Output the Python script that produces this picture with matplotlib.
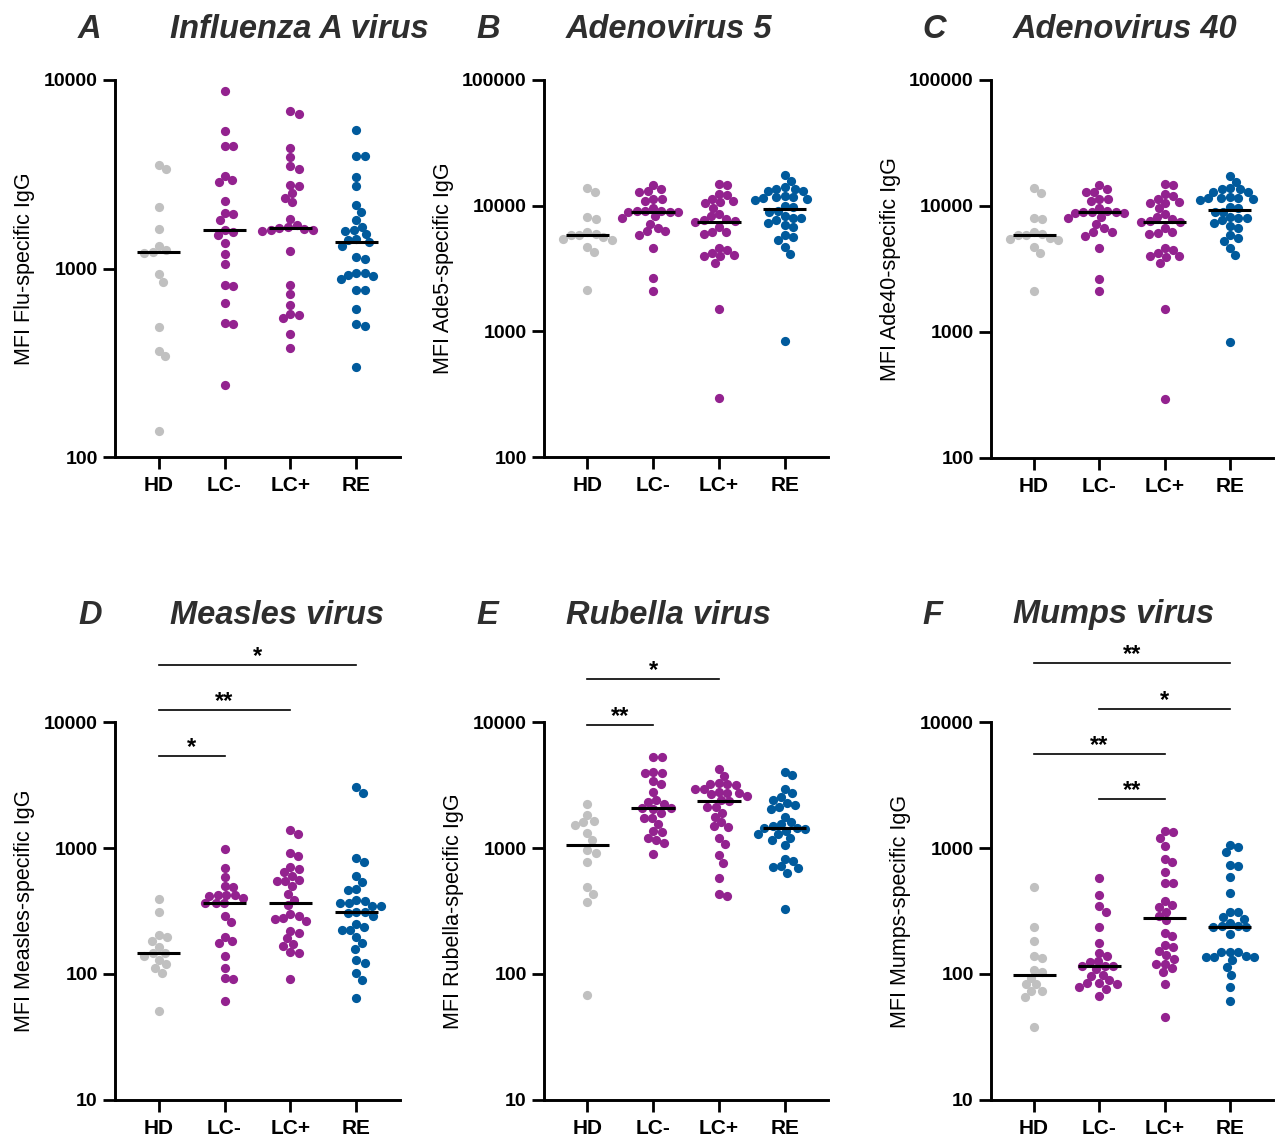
import numpy as np
import matplotlib
matplotlib.use("Agg")
import matplotlib.pyplot as plt
from matplotlib.ticker import FixedLocator, NullLocator

plt.rcParams['font.family'] = ['Liberation Sans', 'DejaVu Sans']

groups = ["HD", "LC-", "LC+", "RE"]
colors = ["#c0c0c0", "#93228f", "#93228f", "#005a9c"]

# A: Influenza A virus
flu_hd = [3530, 3390, 2120, 1630, 1320, 1250, 1225, 1210, 930, 850, 490, 365, 343, 138]
flu_lcn = [8710, 5350, 4490, 4490, 3100, 2960, 2860, 2280, 1970, 1950, 1800, 1610,
           1560, 1510, 1360, 1200, 1060, 816, 806, 660, 511, 509, 241]
flu_lcp = [6820, 6640, 4380, 3910, 3490, 3390, 2790, 2730, 2520, 2380, 2250, 1830, 1710,
           1660, 1640, 1615, 1610, 1610, 1585, 1245, 816, 728, 640, 575, 564, 543, 449, 377]
flu_re = [5410, 3930, 3930, 3060, 2730, 2170, 1990, 1800, 1660, 1600, 1590, 1520, 1430,
          1420, 1380, 1320, 1150, 1120, 952, 948, 922, 918, 878, 771, 771, 607, 505, 493, 300]

# B: Adenovirus 5 (panel C shows the same values)
ade_hd = [13830, 12770, 8070, 7880, 6170, 5950, 5880, 5880, 5600, 5430, 5330, 4720, 4260, 2130]
ade_lcn = [14690, 13650, 13000, 12850, 11300, 11300, 10960, 9580, 9120, 8910, 8850, 8850,
           9020, 9020, 8220, 7980, 7190, 6640, 6250, 6250, 5810, 4610, 2650, 2110]
ade_lcp = [14870, 14690, 12460, 12080, 11370, 10820, 10630, 10500, 9580, 8590, 8220, 7880,
           7640, 7500, 7410, 6730, 6170, 6140, 5950, 4610, 4470, 4200, 4030, 4000, 3950,
           3500, 1510, 295]
ade_re = [17420, 15620, 13990, 13650, 13650, 13000, 13000, 11860, 11650, 11650, 11510,
          11370, 11160, 9880, 9700, 9020, 8910, 8220, 7980, 7980, 7740, 7280, 6980, 6730,
          5880, 5600, 5300, 4660, 4120, 832]

# D: Measles virus
mea_hd = [393, 308, 204, 195, 183, 163, 148, 146, 140, 128, 120, 111, 101, 51]
mea_lcn = [982, 693, 584, 495, 492, 425, 425, 422, 418, 400, 365, 365, 365, 286, 261, 198,
           184, 175, 139, 112, 93, 92, 61]
mea_lcp = [1380, 1300, 912, 859, 706, 681, 640, 602, 553, 543, 543, 495, 433, 388, 350, 300,
           286, 277, 272, 264, 221, 213, 192, 173, 167, 149, 148, 92]
mea_re = [3040, 2740, 832, 774, 602, 536, 474, 466, 388, 377, 365, 365, 348, 348, 308, 308,
          304, 290, 250, 235, 224, 224, 198, 175, 159, 128, 122, 101, 90, 65]

# E: Rubella virus
rub_hd = [2250, 1830, 1650, 1610, 1530, 1315, 1150, 958, 918, 778, 486, 433, 370, 68]
rub_lcn = [5300, 5240, 4030, 3950, 3950, 3390, 3210, 2760, 2390, 2320, 2250, 2090, 2080,
           2030, 1890, 1740, 1720, 1560, 1360, 1330, 1210, 1165, 1100, 896]
rub_lcp = [4200, 3720, 3290, 3210, 3210, 3160, 2930, 2930, 2790, 2740, 2740, 2670, 2580,
           2400, 2350, 2120, 2120, 1910, 1770, 1610, 1490, 1470, 1210, 1080, 874, 760, 581,
           428, 415]
rub_re = [4030, 3790, 2930, 2740, 2550, 2390, 2280, 2190, 2120, 2030, 1770, 1610, 1540, 1490,
          1430, 1430, 1410, 1365, 1280, 1280, 1190, 1150, 1060, 822, 788, 714, 706, 693, 637, 329]

# F: Mumps virus
mum_hd = [490, 235, 184, 140, 135, 108, 104, 93.5, 82.8, 82.8, 73.6, 73.2, 65.6, 37.8]
mum_lcn = [577, 425, 348, 313, 235, 175, 148, 139, 127, 124, 116, 116, 116, 109, 98, 96,
           89.5, 84.3, 84.3, 82.8, 79.3, 76.4, 66.8]
mum_lcp = [1374, 1340, 1200, 1030, 817, 769, 640, 526, 523, 383, 352, 343, 313, 286, 266,
           213, 199, 170, 165, 152, 142, 132, 120, 120, 112, 103, 83, 45.5]
mum_re = [1063, 1018, 929, 732, 714, 591, 436, 310, 308, 281, 274, 253, 241, 241, 238, 235,
          208, 149, 149, 149, 139, 137, 137, 137, 128, 113, 99, 79, 61]

# significance brackets: (group a, group b, label)
mea_sig = [(0, 1, "*"), (0, 2, "**"), (0, 3, "*")]
rub_sig = [(0, 1, "**"), (0, 2, "*")]
mum_sig = [(1, 2, "**"), (0, 2, "**"), (1, 3, "*"), (0, 3, "**")]

W, H = 1285, 1139
fig = plt.figure(figsize=(W / 100, H / 100), dpi=100)


def swarm_x(ax, x0, values, diam=8.5):
    # simple beeswarm in pixel space
    pts = ax.transData.transform(np.column_stack([np.full(len(values), x0), values]))
    ys = pts[:, 1]
    xc = pts[0, 0]
    placed = []
    xs = np.zeros(len(values))
    for i in np.argsort(-ys):
        y = ys[i]
        cands = [0.0]
        for px, py in placed:
            dy = abs(py - y)
            if dy < diam:
                dx = np.sqrt(diam ** 2 - dy ** 2)
                cands += [px + dx, px - dx]
        cands.sort(key=abs)
        for c in cands:
            if all((c - px) ** 2 + (y - py) ** 2 >= diam ** 2 - 1e-6 for px, py in placed):
                break
        xs[i] = c
        placed.append((c, y))
    disp = np.column_stack([xc + xs, ys])
    return ax.transData.inverted().transform(disp)[:, 0]


def panel(box, data, ylim, ylabel, letter, title, letter_x, title_x, title_y,
          sig=None, sig_base=0.9):
    l, t, r, b = box
    ax = fig.add_axes([l / W, (H - b) / H, (r - l) / W, (b - t) / H])
    ax.set_yscale("log")
    ax.set_ylim(*ylim)
    ax.set_xlim(-0.66, 3.66)
    decades = [10 ** k for k in range(int(np.log10(ylim[0])), int(np.log10(ylim[1])) + 1)]
    ax.yaxis.set_major_locator(FixedLocator(decades))
    ax.yaxis.set_minor_locator(NullLocator())
    ax.set_yticklabels([str(d) for d in decades], fontsize=14, fontweight="bold")
    ax.set_xticks(range(4))
    ax.set_xticklabels(groups, fontsize=15, fontweight="bold")
    for s in ["top", "right"]:
        ax.spines[s].set_visible(False)
    for s in ["left", "bottom"]:
        ax.spines[s].set_linewidth(2.1)
    ax.tick_params(axis="both", length=8.5, width=2.0, pad=4)
    ax.tick_params(axis="x", pad=5)
    ax.set_ylabel(ylabel, fontsize=15.5, labelpad=6)

    for i, vals in enumerate(data):
        xs = swarm_x(ax, i, vals)
        ax.scatter(xs, vals, s=44, color=colors[i], linewidths=0, zorder=3, clip_on=False)
        med = np.median(vals)
        ax.plot([i - 0.33, i + 0.33], [med, med], color="black", lw=2.2, zorder=4,
                solid_capstyle="butt")

    if sig:
        tr = ax.get_xaxis_transform()
        for k, (a, c, lab) in enumerate(sig):
            h = sig_base + 0.12 * k
            ax.plot([a, c], [h, h], color="black", lw=1.2, transform=tr, clip_on=False)
            ax.text((a + c) / 2, h - 0.008, lab, transform=tr, ha="center", va="bottom",
                    fontsize=17, fontweight="bold")

    fig.text(letter_x / W, 1 - title_y / H, letter, fontsize=23.5, fontweight="bold",
             fontstyle="italic", color="#2e2e2e", ha="left", va="center")
    fig.text(title_x / W, 1 - title_y / H, title, fontsize=23.5, fontweight="bold",
             fontstyle="italic", color="#2e2e2e", ha="left", va="center")
    return ax


panel((115, 80, 400, 457), [flu_hd, flu_lcn, flu_lcp, flu_re], (100, 10000),
      "MFI Flu-specific IgG", "A", "Influenza A virus", 78, 170, 30)
panel((544, 80, 828, 457), [ade_hd, ade_lcn, ade_lcp, ade_re], (100, 100000),
      "MFI Ade5-specific IgG", "B", "Adenovirus 5", 476, 566, 30)
panel((991, 80, 1273, 458), [ade_hd, ade_lcn, ade_lcp, ade_re], (100, 100000),
      "MFI Ade40-specific IgG", "C", "Adenovirus 40", 922, 1013, 30)
panel((115, 722, 400, 1100), [mea_hd, mea_lcn, mea_lcp, mea_re], (10, 10000),
      "MFI Measles-specific IgG", "D", "Measles virus", 78, 170, 615,
      sig=mea_sig, sig_base=0.911)
panel((544, 722, 828, 1100), [rub_hd, rub_lcn, rub_lcp, rub_re], (10, 10000),
      "MFI Rubella-specific IgG", "E", "Rubella virus", 476, 566, 615,
      sig=rub_sig, sig_base=0.993)
panel((991, 722, 1273, 1100), [mum_hd, mum_lcn, mum_lcp, mum_re], (10, 10000),
      "MFI Mumps-specific IgG", "F", "Mumps virus", 922, 1013, 615,
      sig=mum_sig, sig_base=0.795)

fig.savefig("out.png", dpi=100)
